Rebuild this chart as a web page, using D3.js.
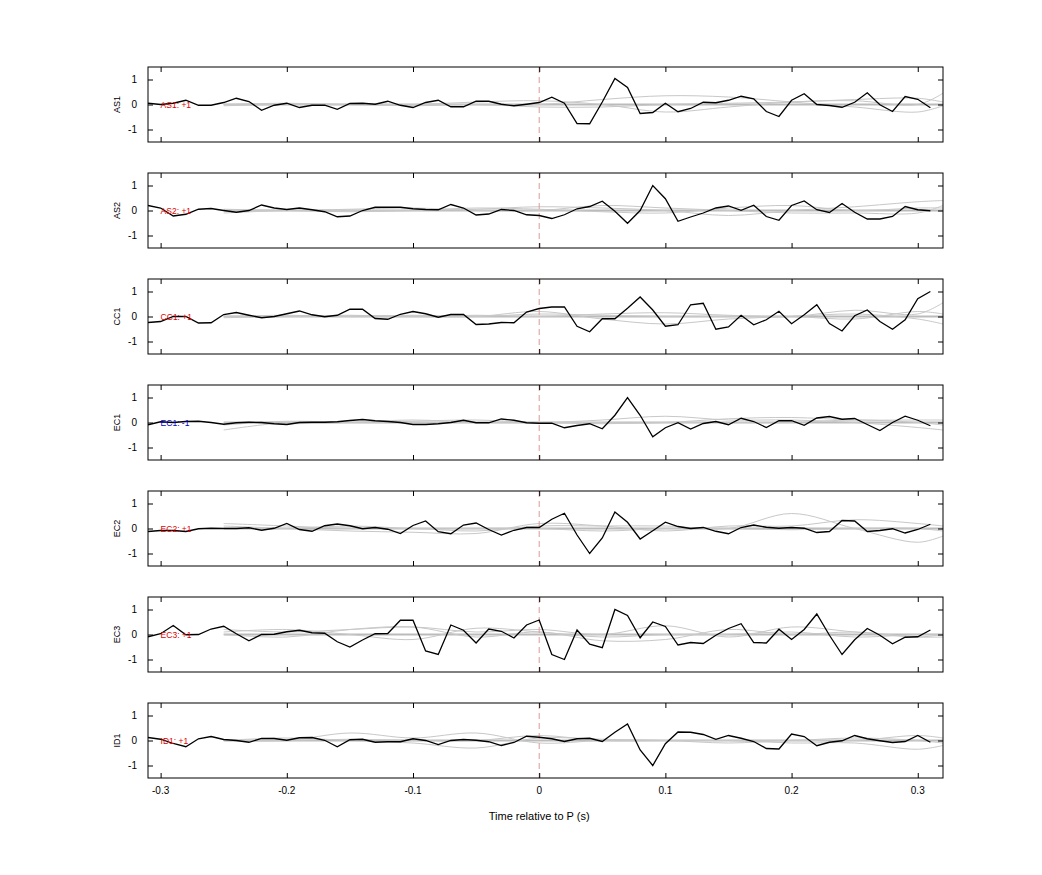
<!DOCTYPE html>
<html><head><meta charset="utf-8">
<script src="https://cdn.jsdelivr.net/npm/d3@7"></script>
<style>body{margin:0;background:#fff}svg{font-family:"Liberation Sans",Arial,sans-serif}</style>
</head><body><svg id="c" width="1042" height="875"></svg>
<script>
const channels = ["AS1","AS2","CC1","EC1","EC2","EC3","ID1"];
const signs = ["+1","+1","+1","-1","+1","+1","+1"];
const labelColors = ["#d00","#d00","#d00","#00c","#d00","#d00","#d00"];
const times = d3.range(63).map(i => +(-0.31 + i*0.01).toFixed(2));
const AS1 = [.05,0,.05,.17,-.03,-.03,.08,.25,.12,-.23,-.03,.05,-.12,-.03,-.03,-.19,.04,.05,.01,.13,-.03,-.12,.08,.17,-.09,-.09,.13,.13,.01,-.05,.01,.08,
 .29,.05,-.76,-.77,.1,1.04,.68,-.36,-.32,.05,-.29,-.16,.09,.07,.17,.33,.23,-.28,-.48,.17,.43,0,-.04,-.11,.09,.47,-.01,-.28,.32,.21,-.13];
const AS2 = [0.2,0.1,-0.22,-0.15,0.05,0.08,0,-0.07,0,0.22,0.1,0.04,0.1,0.03,-0.05,-0.25,-0.22,0,0.13,0.13,0.13,0.07,0.04,0.03,0.24,0.1,-0.18,-0.14,0.04,0,-0.17,-0.2,-0.32,-0.17,0.07,0.16,0.37,-0.03,-0.51,0,1.0,0.47,-0.43,-0.26,-0.1,0.1,0.18,0.01,0.21,-0.24,-0.39,0.2,0.38,0.03,-0.08,0.28,-0.07,-0.34,-0.34,-0.24,0.16,0.03,-0.01];
const CC1 = [-0.24,-0.2,0,0,-0.26,-0.25,.08,.16,.05,-.05,0,.11,.22,.07,-.01,.05,.29,.29,-.08,-.11,.09,.2,.11,-.03,.08,.08,-.32,-.3,-.24,-.25,.18,.32,.38,.38,-.39,-.61,-.09,-.09,.33,.78,.26,-.39,-.33,.47,.53,-.51,-.42,.05,-.33,-.13,.21,-.29,.07,.47,-.28,-.58,.03,.26,-.2,-.51,-.13,.71,1.0];
const EC1 = [-.09,.03,0,.04,.05,0,-.07,-.01,.01,0,-.05,-.08,0,.01,.01,.03,.08,.12,.07,.04,0,-.08,-.08,-.05,0,.09,-.01,-.01,.14,.09,-.01,-.03,-.03,-.21,-.12,-.05,-.25,.29,1.0,.29,-.57,-.21,-.01,-.26,-.04,.04,-.09,.17,.04,-.2,.07,.07,-.11,.18,.24,.13,.16,-.08,-.32,0,.25,.09,-.13];
const EC2 = [-.12,-.08,-.08,-.12,-.01,.01,0,0,.03,-.07,.01,.2,-.04,-.11,.11,.18,.11,-.01,.04,-.03,-.2,.12,.3,-.13,-.21,.14,.22,-.04,-.26,-.07,.04,.04,.37,.61,-.26,-1.0,-.38,.66,.25,-.42,-.09,.25,.08,0,.04,-.11,-.21,.04,.14,.05,.01,.04,.01,-.16,-.12,.32,.3,-.12,-.08,-.01,-.18,-.04,.17];
const EC3 = [-.09,.03,.36,-.01,0,.22,.33,.03,-.25,0,.01,.11,.17,.07,.05,-.29,-.5,-.22,.03,.04,.57,.57,-.66,-.8,.38,.17,-.34,.22,.13,-.14,.38,.58,-.8,-1.0,.18,-.39,-.53,1.0,.76,-.13,.5,.32,-.42,-.32,-.36,-.03,.24,.43,-.32,-.34,.21,-.2,.2,.82,-.03,-.8,-.21,.24,-.03,-.37,-.11,-.09,.18];
const ID1 = [.12,.05,-.12,-.25,.07,.16,.04,0,-.07,.08,.08,.01,.11,.12,.01,-.25,.03,.05,-.07,-.05,-.05,.07,0,-.16,0,.04,.01,-.05,-.2,-.08,.17,.13,.07,-.04,.07,.09,-.04,.33,.66,-.38,-1,-.13,.34,.33,.24,.05,.2,.09,-.04,-.32,-.34,.26,.16,-.21,-.07,-.01,.2,.07,-.01,-.08,-.04,.2,-.07];
const series = [AS1,AS2,CC1,EC1,EC2,EC3,ID1];
const grayTimes = [-0.25,-0.2,-0.15,-0.1,-0.05,0,0.05,0.1,0.15,0.2,0.25,0.3,0.32];
const grayAS1 = [[0,0,0,0,0.1,0.15,0,-0.3,-0.1,0.1,0.15,0,0.45],[0,0.05,0,0,0,0,0.2,0.35,0.3,0.1,-0.1,-0.3,-0.05],[-0.05,0,0,-0.05,0,-0.1,-0.1,0,0.05,0.1,0.2,0.25,0.1]];
const grayAS2 = [[-0.1,0,0,0,0.05,0.15,0.1,0,-0.2,0,0.15,0.35,0.4],[0,0,0.05,0.1,0,0,0.2,0.1,0,-0.1,-0.1,-0.1,0.2],[0.05,0,-0.05,0,0.1,0.05,-0.05,-0.1,0.1,0.2,0,0.1,0.1]];
const grayCC1 = [[0,0,0.05,0,0,0.2,-0.1,-0.3,-0.1,0,0.1,-0.1,-0.3],[0,0.05,0,0,0.05,0,0.1,0.15,0.05,0,0.25,0.1,0.55],[-0.05,0,0,0.05,0,0.1,0.05,0,0,0,-0.1,0.2,0.1]];
const grayEC1 = [[-0.3,0,0,0.05,0.1,0,0.1,0.25,0.1,0.1,0,-0.2,-0.3],[0,-0.05,0,0.1,0,0,0,0,0.15,0.2,0.1,0.1,0.1],[-0.1,0.05,0,0,0,0,-0.05,0,0,0,0.1,0,-0.1]];
const grayEC2 = [[0.2,0.1,0,0,-0.1,0.1,0.1,0.1,0,0.6,0,-0.55,-0.3],[0.1,0,-0.1,-0.15,-0.2,0.2,0.1,-0.1,0.1,0.1,0.35,0.2,0.1],[0,0,0.1,0,0,0,-0.1,0,0,-0.05,0,0,-0.1]];
const grayEC3 = [[0.2,0.1,0.2,0.3,0.1,0.2,0,0.35,-0.1,0.3,0.1,-0.1,0],[0,-0.1,0.2,0.3,-0.1,0.1,-0.25,-0.2,0.2,0,0.1,-0.1,-0.1],[0.1,0.2,0,-0.2,0.25,0.1,-0.1,0,0,0.1,-0.1,0,0]];
const grayID1 = [[0,0,0.3,0.1,0.3,-0.1,0,0,-0.1,0,0,0.2,0.1],[0,0.1,0,-0.1,-0.3,0.1,0.05,0,0,-0.1,-0.1,-0.35,-0.2],[0,0,0.05,0,0,0.2,0,0,0,0,0.1,0,-0.1]];
const grays = [grayAS1,grayAS2,grayCC1,grayEC1,grayEC2,grayEC3,grayID1];
const xTicks = [-0.3,-0.2,-0.1,0,0.1,0.2,0.3];
const yTicks = [1,0,-1];

const svg = d3.select("#c");
const L=148, R=943, top0=67, H=75, step=106;
const x = d3.scaleLinear().domain([-0.31,0.32]).range([L,R]);
svg.append("defs").append("clipPath").attr("id","cp").append("rect").attr("x",L).attr("y",-1000).attr("width",R-L).attr("height",3000);

channels.forEach((ch,i)=>{
  const t0 = top0 + i*step;
  const y = d3.scaleLinear().domain([-1.5,1.5]).range([t0+H,t0]);
  const g = svg.append("g");
  const gc = g.append("g").attr("clip-path","url(#cp)");
  const line = d3.line().x(d=>x(d[0])).y(d=>y(d[1]));
  const smooth = d3.line().x(d=>x(d[0])).y(d=>y(d[1])).curve(d3.curveCatmullRom);
  gc.append("path").attr("d",line([[-0.25,0],[0.32,0]])).attr("stroke","#bbb").attr("stroke-width",2).attr("fill","none");
  grays[i].forEach(gv=>{
    gc.append("path").attr("d",smooth(grayTimes.map((t,k)=>[t,gv[k]]))).attr("stroke","#c8c8c8").attr("stroke-width",1).attr("fill","none");
  });
  gc.append("line").attr("x1",x(0)).attr("x2",x(0)).attr("y1",t0).attr("y2",t0+H)
    .attr("stroke","#d99").attr("stroke-width",1).attr("stroke-dasharray","6,4");
  gc.append("path").attr("d",line(times.map((t,k)=>[t,series[i][k]]))).attr("stroke","#000").attr("stroke-width",1.3).attr("fill","none");
  g.append("text").attr("x",x(-0.3)).attr("y",y(0)+3).attr("font-size",8.5).attr("fill",labelColors[i]).text(ch+": "+signs[i]);
  g.append("g").attr("transform",`translate(${L},0)`).call(d3.axisRight(y).tickValues(yTicks).tickSize(5).tickFormat(""))
   .call(a=>a.select(".domain").remove());
  g.append("g").attr("transform",`translate(${R},0)`).call(d3.axisLeft(y).tickValues(yTicks).tickSize(5).tickFormat(""))
   .call(a=>a.select(".domain").remove());
  yTicks.forEach(v=>g.append("text").attr("x",L-11).attr("y",y(v)+3.5).attr("text-anchor","end").attr("font-size",10).text(v));
  g.append("g").attr("transform",`translate(0,${t0+H})`).call(d3.axisTop(x).tickValues(xTicks).tickSize(5).tickFormat(""))
   .call(a=>a.select(".domain").remove());
  g.append("g").attr("transform",`translate(0,${t0})`).call(d3.axisBottom(x).tickValues(xTicks).tickSize(5).tickFormat(""))
   .call(a=>a.select(".domain").remove());
  g.append("rect").attr("x",L).attr("y",t0).attr("width",R-L).attr("height",H).attr("fill","none").attr("stroke","#000").attr("stroke-width",1);
  g.append("text").attr("transform",`translate(120,${y(0)}) rotate(-90)`).attr("text-anchor","middle").attr("font-size",9).text(ch);
  if(i===channels.length-1){
    xTicks.forEach(v=>g.append("text").attr("x",x(v)).attr("y",t0+H+16).attr("text-anchor","middle").attr("font-size",10).text(String(v)));
  }
});
svg.append("text").attr("x",x(0)).attr("y",820).attr("text-anchor","middle").attr("font-size",11).text("Time relative to P (s)");
</script></body></html>
